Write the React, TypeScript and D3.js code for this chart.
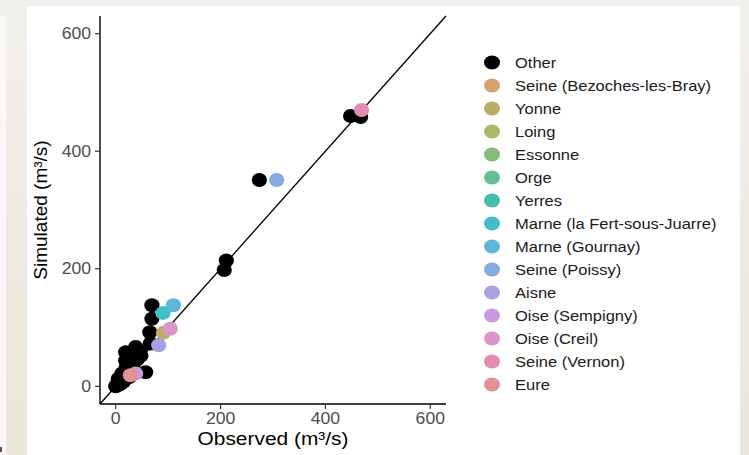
import React, { useEffect, useRef } from "react";
import * as d3 from "d3";

// legend categories and their colours
const categories = [
  "Other",
  "Seine (Bezoches-les-Bray)",
  "Yonne",
  "Loing",
  "Essonne",
  "Orge",
  "Yerres",
  "Marne (la Fert-sous-Juarre)",
  "Marne (Gournay)",
  "Seine (Poissy)",
  "Aisne",
  "Oise (Sempigny)",
  "Oise (Creil)",
  "Seine (Vernon)",
  "Eure",
];
const colors = [
  "#000000", "#D3A26E", "#BBAD66", "#A8B867", "#83BC78", "#64BF92", "#45BFAA",
  "#40BEC6", "#5DB7D8", "#85A9E0", "#A8A0E3", "#C99ADC", "#DC94CD", "#E38CB3", "#E39393",
];

// [category, observed, simulated] in m3/s
const hiddenPoints: [string, number, number][] = [
  ["Seine (Bezoches-les-Bray)", 4, 3],
  ["Loing", 8, 7],
  ["Essonne", 2, 5],
  ["Orge", 1, 1],
  ["Yerres", 6, 4],
];
const otherPoints: [string, number, number][] = [
  ["Other", 0, 0], ["Other", 3, 2], ["Other", 6, 6], ["Other", 9, 4], ["Other", 12, 11],
  ["Other", 15, 8], ["Other", 5, 13], ["Other", 18, 15], ["Other", 22, 20], ["Other", 12, 22],
  ["Other", 26, 16], ["Other", 30, 30], ["Other", 20, 32], ["Other", 35, 40], ["Other", 25, 45],
  ["Other", 40, 45], ["Other", 19, 44], ["Other", 48, 52], ["Other", 19, 58], ["Other", 38, 67],
  ["Other", 45, 60], ["Other", 66, 73], ["Other", 65, 92], ["Other", 69, 115], ["Other", 69, 138],
  ["Other", 57, 24], ["Other", 207, 198], ["Other", 211, 214], ["Other", 274, 351],
  ["Other", 448, 460], ["Other", 467, 458],
];
const stationPoints: [string, number, number][] = [
  ["Yonne", 91, 91],
  ["Marne (la Fert-sous-Juarre)", 90, 125],
  ["Marne (Gournay)", 110, 138],
  ["Seine (Poissy)", 307, 351],
  ["Aisne", 82, 70],
  ["Oise (Sempigny)", 38, 22],
  ["Oise (Creil)", 104, 98],
  ["Seine (Vernon)", 469, 470],
  ["Eure", 28, 19],
];
const xTicks = [0, 200, 400, 600];
const yTicks = [0, 200, 400, 600];

const FONT = "'Liberation Sans', Arial, Helvetica, sans-serif";
const SX = 1.1; // the picture is slightly stretched horizontally

const App = () => {
  const ref = useRef<SVGSVGElement>(null);

  useEffect(() => {
    const svg = d3.select(ref.current);
    svg.selectAll("*").remove();

    // page background
    const grad = svg.append("defs").append("linearGradient")
      .attr("id", "bg").attr("x1", 0).attr("y1", 0).attr("x2", 0).attr("y2", 1);
    grad.append("stop").attr("offset", "0%").attr("stop-color", "#F2F0EA");
    grad.append("stop").attr("offset", "100%").attr("stop-color", "#E9E6DA");
    svg.append("rect").attr("width", 749).attr("height", 455).attr("fill", "url(#bg)");
    svg.append("rect").attr("x", 0).attr("y", 16).attr("width", 6).attr("height", 439).attr("fill", "#F8F8F6");
    svg.append("rect").attr("x", 0).attr("y", 447).attr("width", 2).attr("height", 5).attr("fill", "#555");
    svg.append("rect").attr("x", 27).attr("y", 6).attr("width", 713).attr("height", 449).attr("fill", "#FFFFFF");

    const left = 100, right = 446, top = 16, bottom = 404;
    const x = d3.scaleLinear().domain([-30, 630]).range([left, right]);
    const y = d3.scaleLinear().domain([-30, 630]).range([bottom, top]);
    const color = d3.scaleOrdinal<string, string>().domain(categories).range(colors);

    const g = svg.append("g");

    // 1:1 line
    g.append("line")
      .attr("x1", x(-30)).attr("y1", y(-30))
      .attr("x2", x(630)).attr("y2", y(630))
      .attr("stroke", "#000").attr("stroke-width", 1.3);

    const all = [...hiddenPoints, ...otherPoints, ...stationPoints];
    g.selectAll(".pt")
      .data(all)
      .enter()
      .append("ellipse")
      .attr("class", "pt")
      .attr("cx", (d) => x(d[1]))
      .attr("cy", (d) => y(d[2]))
      .attr("rx", 7.6)
      .attr("ry", 7)
      .attr("fill", (d) => color(d[0]));

    // axes
    const axisColor = "#000";
    g.append("line").attr("x1", left).attr("x2", left).attr("y1", top).attr("y2", bottom)
      .attr("stroke", axisColor).attr("stroke-width", 1.4);
    g.append("line").attr("x1", left).attr("x2", right).attr("y1", bottom).attr("y2", bottom)
      .attr("stroke", axisColor).attr("stroke-width", 1.4);

    yTicks.forEach((t) => {
      g.append("line").attr("x1", left - 5).attr("x2", left).attr("y1", y(t)).attr("y2", y(t))
        .attr("stroke", "#333").attr("stroke-width", 1.2);
      g.append("text")
        .attr("transform", `translate(${left - 9},${y(t) + 5.5}) scale(${SX},1)`)
        .attr("text-anchor", "end")
        .attr("font-family", FONT).attr("font-size", 16).attr("fill", "#4D4D4D")
        .text(t);
    });
    xTicks.forEach((t) => {
      g.append("line").attr("x1", x(t)).attr("x2", x(t)).attr("y1", bottom).attr("y2", bottom + 5)
        .attr("stroke", "#333").attr("stroke-width", 1.2);
      g.append("text")
        .attr("transform", `translate(${x(t)},${bottom + 19.5}) scale(${SX},1)`)
        .attr("text-anchor", "middle")
        .attr("font-family", FONT).attr("font-size", 16).attr("fill", "#4D4D4D")
        .text(t);
    });

    g.append("text")
      .attr("transform", `translate(${(left + right) / 2},${bottom + 41}) scale(${SX},1)`)
      .attr("text-anchor", "middle")
      .attr("font-family", FONT).attr("font-size", 19).attr("fill", "#000")
      .text("Observed (m³/s)");
    g.append("text")
      .attr("transform", `translate(47,${(top + bottom) / 2}) rotate(-90)`)
      .attr("text-anchor", "middle")
      .attr("font-family", FONT).attr("font-size", 19).attr("fill", "#000")
      .text("Simulated (m³/s)");

    // legend
    const legend = svg.append("g");
    categories.forEach((c, i) => {
      const ly = 62.5 + i * 23;
      legend.append("ellipse").attr("cx", 492).attr("cy", ly).attr("rx", 8).attr("ry", 7)
        .attr("fill", color(c));
      legend.append("text")
        .attr("transform", `translate(515,${ly + 5.5}) scale(${SX},1)`)
        .attr("font-family", FONT).attr("font-size", 15).attr("fill", "#1A1A1A")
        .text(c);
    });
  }, []);

  return (
    <svg
      ref={ref}
      width={749}
      height={455}
      style={{ position: "absolute", left: 0, top: 0 }}
    />
  );
};

export default App;
